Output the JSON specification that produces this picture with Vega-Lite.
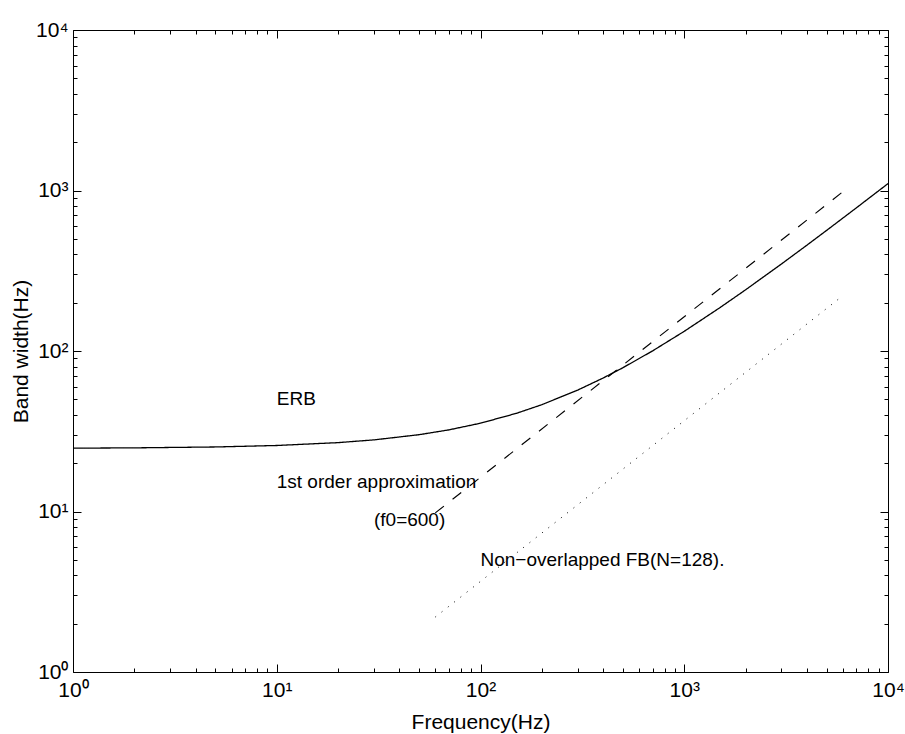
{
  "$schema": "https://vega.github.io/schema/vega-lite/v6.json",
  "width": 815,
  "height": 642,
  "autosize": "none",
  "padding": {"left": 73, "top": 30, "right": 17, "bottom": 62},
  "background": "white",
  "config": {
    "font": "Liberation Sans",
    "view": {"stroke": "black", "strokeWidth": 1},
    "axis": {
      "grid": false,
      "domain": false,
      "tickColor": "black",
      "tickWidth": 1,
      "labelColor": "black",
      "labelFont": "Liberation Sans",
      "labelFontSize": 21,
      "labelOverlap": false,
      "labelFlush": false,
      "titleFont": "Liberation Sans",
      "titleFontSize": 21,
      "titleFontWeight": "normal",
      "titleColor": "black"
    }
  },
  "datasets": {
    "curves": [
      {"f": 1, "bw": 24.81, "series": "ERB"},
      {"f": 2, "bw": 24.92, "series": "ERB"},
      {"f": 5, "bw": 25.24, "series": "ERB"},
      {"f": 10, "bw": 25.78, "series": "ERB"},
      {"f": 20, "bw": 26.86, "series": "ERB"},
      {"f": 30, "bw": 27.94, "series": "ERB"},
      {"f": 50, "bw": 30.10, "series": "ERB"},
      {"f": 70, "bw": 32.26, "series": "ERB"},
      {"f": 100, "bw": 35.49, "series": "ERB"},
      {"f": 150, "bw": 40.89, "series": "ERB"},
      {"f": 200, "bw": 46.29, "series": "ERB"},
      {"f": 300, "bw": 57.08, "series": "ERB"},
      {"f": 400, "bw": 67.88, "series": "ERB"},
      {"f": 500, "bw": 78.67, "series": "ERB"},
      {"f": 700, "bw": 100.26, "series": "ERB"},
      {"f": 1000, "bw": 132.64, "series": "ERB"},
      {"f": 1500, "bw": 186.61, "series": "ERB"},
      {"f": 2000, "bw": 240.58, "series": "ERB"},
      {"f": 3000, "bw": 348.52, "series": "ERB"},
      {"f": 4000, "bw": 456.46, "series": "ERB"},
      {"f": 5000, "bw": 564.40, "series": "ERB"},
      {"f": 7000, "bw": 780.28, "series": "ERB"},
      {"f": 10000, "bw": 1104.09, "series": "ERB"},
      {"f": 60, "bw": 9.8, "series": "approx"},
      {"f": 6300, "bw": 1031, "series": "approx"},
      {"f": 60, "bw": 2.2, "series": "FB"},
      {"f": 5700, "bw": 210, "series": "FB"}
    ],
    "notes": [
      {"f": 10, "bw": 50, "label": "ERB"},
      {"f": 10, "bw": 15.3, "label": "1st order approximation"},
      {"f": 30, "bw": 8.9, "label": "(f0=600)"},
      {"f": 100, "bw": 5, "label": "Non−overlapped FB(N=128)."}
    ]
  },
  "layer": [
    {
      "data": {"name": "curves"},
      "mark": {"type": "line", "color": "black", "clip": true},
      "encoding": {
        "x": {
          "field": "f", "type": "quantitative",
          "scale": {"type": "log", "domain": [1, 10000], "nice": false},
          "axis": {
            "orient": "bottom",
            "values": [1,2,3,4,5,6,7,8,9,10,20,30,40,50,60,70,80,90,100,200,300,400,500,600,700,800,900,1000,2000,3000,4000,5000,6000,7000,8000,9000,10000],
            "labelExpr": "indexof([1,10,100,1000,10000], datum.value) >= 0 ? '10' + ['⁰','¹','²','³','⁴'][round(log(datum.value)/LN10)] : ''",
            "tickSize": {"condition": {"test": "indexof([1,10,100,1000,10000], datum.value) >= 0", "value": -8}, "value": -4},
            "labelPadding": 15,
            "title": "Frequency(Hz)",
            "titlePadding": 7
          }
        },
        "y": {
          "field": "bw", "type": "quantitative",
          "scale": {"type": "log", "domain": [1, 10000], "nice": false},
          "axis": {
            "orient": "left",
            "values": [1,2,3,4,5,6,7,8,9,10,20,30,40,50,60,70,80,90,100,200,300,400,500,600,700,800,900,1000,2000,3000,4000,5000,6000,7000,8000,9000,10000],
            "labelExpr": "indexof([1,10,100,1000,10000], datum.value) >= 0 ? '10' + ['⁰','¹','²','³','⁴'][round(log(datum.value)/LN10)] : ''",
            "tickSize": {"condition": {"test": "indexof([1,10,100,1000,10000], datum.value) >= 0", "value": -8}, "value": -4},
            "labelPadding": 13,
            "title": "Band width(Hz)",
            "titlePadding": 4
          }
        },
        "detail": {"field": "series"},
        "strokeDash": {
          "field": "series", "type": "nominal",
          "scale": {"domain": ["ERB", "approx", "FB"], "range": [[1, 0], [11, 11], [1, 7]]},
          "legend": null
        },
        "strokeWidth": {
          "field": "series", "type": "nominal",
          "scale": {"domain": ["ERB", "approx", "FB"], "range": [1.3, 1, 1.2]},
          "legend": null
        }
      }
    },
    {
      "data": {"name": "notes"},
      "mark": {"type": "text", "align": "left", "baseline": "middle", "fontSize": 19, "font": "Liberation Sans", "color": "black"},
      "encoding": {
        "x": {"field": "f", "type": "quantitative", "scale": {"type": "log", "domain": [1, 10000], "nice": false}, "axis": null},
        "y": {"field": "bw", "type": "quantitative", "scale": {"type": "log", "domain": [1, 10000], "nice": false}, "axis": null},
        "text": {"field": "label"}
      }
    },
    {
      "data": {"name": "notes"},
      "mark": {"type": "point", "opacity": 0},
      "encoding": {
        "x": {
          "field": "f", "type": "quantitative",
          "scale": {"type": "log", "domain": [1, 10000], "nice": false},
          "axis": {
            "orient": "top",
            "values": [1,2,3,4,5,6,7,8,9,10,20,30,40,50,60,70,80,90,100,200,300,400,500,600,700,800,900,1000,2000,3000,4000,5000,6000,7000,8000,9000,10000],
            "labels": false,
            "title": null,
            "tickSize": {"condition": {"test": "indexof([1,10,100,1000,10000], datum.value) >= 0", "value": -8}, "value": -4}
          }
        },
        "y": {
          "field": "bw", "type": "quantitative",
          "scale": {"type": "log", "domain": [1, 10000], "nice": false},
          "axis": {
            "orient": "right",
            "values": [1,2,3,4,5,6,7,8,9,10,20,30,40,50,60,70,80,90,100,200,300,400,500,600,700,800,900,1000,2000,3000,4000,5000,6000,7000,8000,9000,10000],
            "labels": false,
            "title": null,
            "tickSize": {"condition": {"test": "indexof([1,10,100,1000,10000], datum.value) >= 0", "value": -8}, "value": -4}
          }
        }
      }
    }
  ],
  "resolve": {"axis": {"x": "independent", "y": "independent"}}
}
